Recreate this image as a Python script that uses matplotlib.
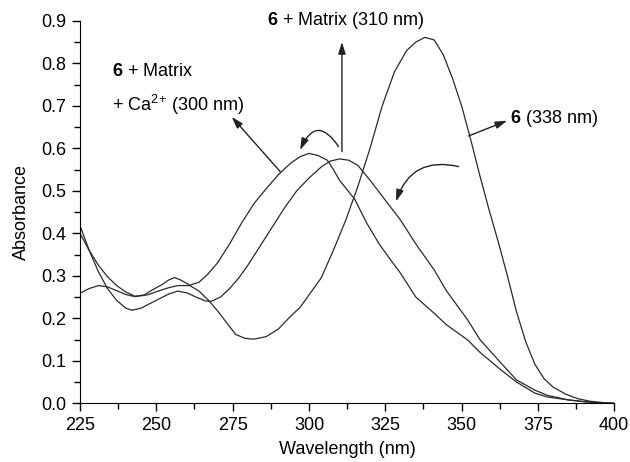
import matplotlib
matplotlib.use("Agg")
import matplotlib.pyplot as plt
import numpy as np

plt.rcParams["font.family"] = ["Liberation Sans", "DejaVu Sans"]
plt.rcParams["mathtext.fontset"] = "custom"
plt.rcParams["mathtext.rm"] = "Liberation Sans"
plt.rcParams["mathtext.bf"] = "Liberation Sans:bold"

# compound 6 alone (peak 338 nm)
wl_6 = [225, 228, 231, 234, 237, 240, 243, 247, 251, 254, 257, 261, 264, 267, 270,
        273, 276, 279, 282, 286, 290, 294, 297, 300, 304, 308, 312, 316, 320, 324,
        328, 332, 335, 338, 341, 344, 347, 350, 353, 356, 359, 362, 365, 368, 371,
        374, 377, 380, 384, 388, 392, 396, 400]
abs_6 = [0.259, 0.270, 0.277, 0.274, 0.265, 0.256, 0.251, 0.255, 0.265, 0.272, 0.277,
         0.277, 0.264, 0.243, 0.218, 0.190, 0.162, 0.153, 0.151, 0.157, 0.175, 0.205,
         0.225, 0.255, 0.295, 0.360, 0.430, 0.510, 0.600, 0.700, 0.780, 0.830, 0.850,
         0.861, 0.855, 0.820, 0.765, 0.700, 0.620, 0.535, 0.455, 0.380, 0.300, 0.215,
         0.145, 0.092, 0.058, 0.038, 0.022, 0.011, 0.005, 0.002, 0.0]

# 6 + matrix (peak 310 nm)
wl_mx = [225, 228, 231, 234, 237, 240, 242, 245, 248, 251, 254, 257, 260, 263, 266,
         268, 271, 274, 277, 280, 284, 288, 292, 296, 300, 304, 307, 310, 313, 316,
         320, 325, 330, 335, 341, 345, 352, 356, 363, 368, 374, 378, 385, 390, 395, 400]
abs_mx = [0.418, 0.360, 0.310, 0.270, 0.242, 0.224, 0.219, 0.224, 0.235, 0.246, 0.257,
          0.264, 0.260, 0.250, 0.241, 0.240, 0.250, 0.270, 0.295, 0.325, 0.370, 0.415,
          0.460, 0.500, 0.530, 0.556, 0.570, 0.575, 0.572, 0.560, 0.525, 0.478, 0.431,
          0.375, 0.314, 0.265, 0.196, 0.150, 0.094, 0.055, 0.031, 0.019, 0.008, 0.004,
          0.001, 0.0]

# 6 + matrix + Ca2+ (peak 300 nm)
wl_ca = [225, 228, 231, 234, 237, 240, 243, 246, 249, 252, 254, 256, 258, 261, 264,
         267, 270, 274, 278, 282, 286, 290, 294, 297, 300, 303, 306, 308, 310, 315,
         319, 323, 327, 330, 335, 341, 345, 352, 356, 363, 368, 374, 378, 385, 390,
         395, 400]
abs_ca = [0.400, 0.360, 0.325, 0.298, 0.277, 0.262, 0.252, 0.255, 0.268, 0.280, 0.290,
          0.296, 0.290, 0.278, 0.285, 0.305, 0.330, 0.375, 0.425, 0.470, 0.505, 0.538,
          0.565, 0.580, 0.588, 0.583, 0.572, 0.550, 0.525, 0.480, 0.423, 0.375, 0.335,
          0.306, 0.250, 0.212, 0.185, 0.149, 0.120, 0.078, 0.050, 0.024, 0.015, 0.008,
          0.004, 0.001, 0.0]

x_ticks = [225, 250, 275, 300, 325, 350, 375, 400]
y_ticks = [0.0, 0.1, 0.2, 0.3, 0.4, 0.5, 0.6, 0.7, 0.8, 0.9]

fig = plt.figure(figsize=(6.3, 4.62), dpi=100)
ax = fig.add_axes([0.127, 0.127, 0.848, 0.828])

line_kw = dict(color="#2a2a2a", lw=0.9)
ax.plot(wl_6, abs_6, **line_kw)
ax.plot(wl_mx, abs_mx, **line_kw)
ax.plot(wl_ca, abs_ca, **line_kw)

ax.set_xlim(225, 400)
ax.set_ylim(0, 0.9)
ax.set_xticks(x_ticks)
ax.set_yticks(y_ticks)
ax.set_xticks(np.arange(237.5, 400, 25), minor=True)
ax.set_yticks(np.arange(0.05, 0.9, 0.1), minor=True)
ax.set_yticklabels([f"{v:.1f}" for v in y_ticks])
ax.tick_params(which="major", direction="out", length=6, width=1, labelsize=13, pad=4)
ax.tick_params(which="minor", direction="out", length=4, width=1)
for s in ["top", "right"]:
    ax.spines[s].set_visible(False)
ax.set_xlabel("Wavelength (nm)", fontsize=13, labelpad=5)
ax.set_ylabel("Absorbance", fontsize=13, labelpad=8)

arrow_kw = dict(arrowstyle="-|>,head_length=0.7,head_width=0.22", color="#222222",
                lw=1.0, shrinkA=0, shrinkB=0)

# labels and arrows
ax.text(312, 0.9, r"$\mathbf{6}$ + Matrix (310 nm)", fontsize=13, ha="center",
        va="center", clip_on=False)
ax.annotate("", xy=(310.8, 0.85), xytext=(310.8, 0.592), arrowprops=arrow_kw)

ax.text(235.4, 0.78, r"$\mathbf{6}$ + Matrix", fontsize=13, ha="left", va="center")
ax.text(235.4, 0.702, r"+ Ca$^{2}$$^{+}$ (300 nm)", fontsize=13, ha="left", va="center")
ax.annotate("", xy=(274.7, 0.674), xytext=(290.6, 0.545), arrowprops=arrow_kw)

ax.annotate("", xy=(297.1, 0.596), xytext=(309.7, 0.604),
            arrowprops=dict(arrow_kw, connectionstyle="arc3,rad=0.9"))

ax.text(366, 0.67, r"$\mathbf{6}$ (338 nm)", fontsize=13, ha="left", va="center")
ax.annotate("", xy=(364.9, 0.665), xytext=(352.3, 0.629), arrowprops=arrow_kw)

ax.annotate("", xy=(328.5, 0.475), xytext=(349, 0.557),
            arrowprops=dict(arrow_kw, connectionstyle="arc3,rad=0.45"))

fig.savefig("out.png", dpi=100)
